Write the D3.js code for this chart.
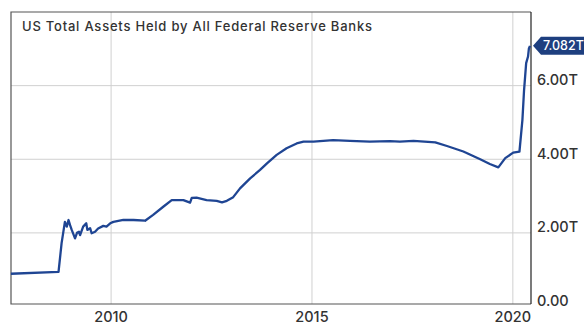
<!DOCTYPE html>
<html><head><meta charset="utf-8">
<script src="https://cdn.jsdelivr.net/npm/d3@7"></script>
<style>body{margin:0;background:#fff}svg{display:block}</style>
</head><body>
<svg id="c" width="586" height="325"></svg>
<script>
const title = "US Total Assets Held by All Federal Reserve Banks";
const dates = ["2007-07-05","2008-09-10","2008-10-08","2008-11-07","2008-11-24","2008-12-10","2008-12-24","2009-01-08","2009-02-07","2009-02-25","2009-03-15","2009-03-25","2009-04-22","2009-05-20","2009-05-30","2009-06-24","2009-07-08","2009-08-08","2009-09-05","2009-10-22","2009-11-20","2009-12-24","2010-01-22","2010-04-22","2010-07-24","2010-11-06","2011-01-18","2011-04-20","2011-07-06","2011-10-20","2011-12-20","2012-01-04","2012-02-17","2012-05-18","2012-08-18","2012-10-05","2012-11-18","2013-01-15","2013-03-18","2013-06-18","2013-09-16","2013-11-18","2014-02-14","2014-05-15","2014-08-15","2014-10-16","2015-01-15","2015-07-12","2015-12-12","2016-06-10","2016-12-10","2017-03-10","2017-07-12","2018-01-26","2018-05-12","2018-10-08","2019-03-10","2019-06-06","2019-08-22","2019-10-24","2020-01-04","2020-03-01","2020-03-28","2020-04-12","2020-05-01","2020-05-18","2020-05-26","2020-06-05"];
const values = [0.89,0.94,1.72,2.30,2.17,2.35,2.21,2.08,1.85,2.00,2.03,1.94,2.17,2.26,2.08,2.13,1.99,2.03,2.12,2.19,2.17,2.26,2.30,2.35,2.35,2.33,2.49,2.71,2.89,2.89,2.82,2.95,2.96,2.89,2.87,2.83,2.87,2.97,3.21,3.48,3.71,3.89,4.12,4.30,4.43,4.48,4.48,4.52,4.50,4.48,4.49,4.48,4.50,4.46,4.36,4.21,4.00,3.87,3.78,4.03,4.18,4.21,5.07,5.88,6.61,6.79,7.01,7.08];
const yTicks = [0,2,4,6];
const yTickLabels = ["0.00","2.00T","4.00T","6.00T"];
const xTicks = ["2010-01-01","2015-01-01","2020-01-01"];
const xTickLabels = ["2010","2015","2020"];
const lastLabel = "7.082T";
const lastValue = 7.082;

const svg = d3.select("#c");
const parse = d3.utcParse("%Y-%m-%d");
const data = dates.map((d,i)=>({date:parse(d), v:values[i]}));
const L=11,R=531,T=12,B=304;
const x = d3.scaleUtc().domain([parse("2007-07-06"), parse("2020-06-14")]).range([L,R]);
const y = d3.scaleLinear().domain([0,8]).range([306.5,T]);
const font = "Inter, 'Open Sans', sans-serif";

svg.append("g").selectAll("line").data(yTicks.filter(d=>d>0)).join("line")
  .attr("x1",L).attr("x2",R).attr("y1",d=>y(d)).attr("y2",d=>y(d))
  .attr("stroke","#d0d0d0").attr("stroke-width",1);
svg.append("g").selectAll("line").data(xTicks).join("line")
  .attr("x1",d=>x(parse(d))).attr("x2",d=>x(parse(d))).attr("y1",T).attr("y2",B)
  .attr("stroke","#d0d0d0").attr("stroke-width",1);

svg.append("path").attr("d",`M${R},${T}H${L}V${B}H${R}`).attr("fill","none").attr("stroke","#555").attr("stroke-width",1.2);
svg.append("line").attr("x1",R).attr("x2",R).attr("y1",T).attr("y2",B).attr("stroke","#222").attr("stroke-width",1.2);

svg.append("path").datum(data)
  .attr("d", d3.line().x(d=>x(d.date)).y(d=>y(d.v)))
  .attr("fill","none").attr("stroke","#1f4593").attr("stroke-width",2.3).attr("stroke-linejoin","round");

svg.append("text").attr("x",22).attr("y",31).text(title)
  .attr("font-family",font).attr("font-size",13).attr("font-weight",500).attr("fill","#333")
  .attr("textLength",350).attr("lengthAdjust","spacing");

svg.append("g").selectAll("text").data(yTicks).join("text")
  .attr("x",537).attr("y",d=>y(d)-0.5)
  .text((d,i)=>yTickLabels[i])
  .attr("font-family",font).attr("font-size",14.5).attr("font-weight",500).attr("fill","#333");

svg.append("g").selectAll("text").data(xTicks).join("text")
  .attr("x",d=>x(parse(d))).attr("y",322).attr("text-anchor","middle")
  .text((d,i)=>xTickLabels[i])
  .attr("font-family",font).attr("font-size",14.5).attr("font-weight",500).attr("fill","#333");

const fy = y(lastValue);
svg.append("path").attr("d",`M${R+2},${fy} L${R+10},${fy-9} H584 V${fy+9} H${R+10} Z`).attr("fill","#1e3f7f");
svg.append("text").attr("x",543).attr("y",fy+4.6).text(lastLabel)
  .attr("font-family",font).attr("font-size",12.5).attr("font-weight",500).attr("fill","#fff");
</script>
</body></html>
